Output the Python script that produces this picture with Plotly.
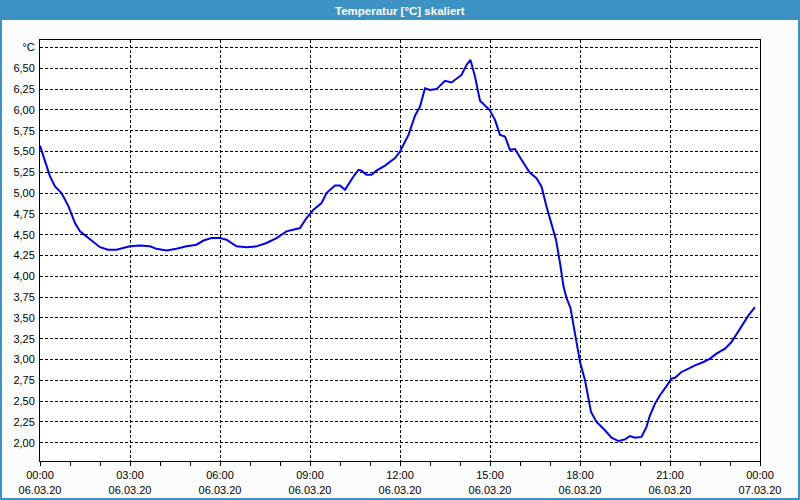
import plotly.graph_objects as go

times = ["00:00","00:20","00:30","00:43","00:57","01:10","01:20","01:40","02:00","02:16","02:33",
         "03:00","03:20","03:40","03:53","04:13","04:33","04:53","05:13","05:27","05:43",
         "06:00","06:13","06:33","06:53","07:13","07:33","07:53","08:13","08:40","08:53",
         "09:07","09:23","09:33","09:50","10:00","10:10","10:27","10:37","10:43","10:53",
         "11:03","11:13","11:30","11:50","12:00","12:17","12:30","12:40","12:50","13:00",
         "13:13","13:30","13:43","14:03","14:13","14:21","14:30","14:40","14:59","15:10",
         "15:20","15:30","15:40","15:50","16:03","16:19","16:33","16:43","16:53","17:03",
         "17:12","17:20","17:27","17:33","17:41","17:50","18:00","18:10","18:17","18:22",
         "18:33","18:50","19:03","19:17","19:30","19:40","19:50","20:03","20:13","20:20",
         "20:30","20:40","20:53","21:03","21:10","21:23","21:37","21:50","22:07","22:20",
         "22:33","22:50","23:03","23:20","23:37","23:50"]
temps = [5.57,5.20,5.08,5.00,4.84,4.64,4.54,4.44,4.35,4.32,4.32,
         4.36,4.37,4.36,4.33,4.31,4.33,4.36,4.38,4.43,4.46,
         4.46,4.44,4.36,4.35,4.36,4.40,4.46,4.54,4.58,4.70,
         4.80,4.88,5.00,5.09,5.09,5.04,5.20,5.28,5.27,5.22,
         5.22,5.27,5.33,5.42,5.50,5.70,5.93,6.04,6.26,6.24,
         6.25,6.35,6.33,6.42,6.54,6.60,6.40,6.11,6.00,5.88,
         5.70,5.68,5.52,5.53,5.40,5.25,5.18,5.08,4.84,4.64,
         4.44,4.16,3.88,3.74,3.62,3.31,2.97,2.75,2.51,2.37,
         2.25,2.15,2.06,2.02,2.04,2.08,2.06,2.07,2.19,2.33,
         2.47,2.57,2.68,2.77,2.78,2.85,2.89,2.93,2.97,3.01,
         3.07,3.13,3.21,3.37,3.53,3.63]

x_tick_vals = ["2020-03-06 00:00","2020-03-06 03:00","2020-03-06 06:00","2020-03-06 09:00",
               "2020-03-06 12:00","2020-03-06 15:00","2020-03-06 18:00","2020-03-06 21:00",
               "2020-03-07 00:00"]
x_tick_text = ["00:00<br>06.03.20","03:00<br>06.03.20","06:00<br>06.03.20","09:00<br>06.03.20",
               "12:00<br>06.03.20","15:00<br>06.03.20","18:00<br>06.03.20","21:00<br>06.03.20",
               "00:00<br>07.03.20"]
y_tick_vals = [2.00,2.25,2.50,2.75,3.00,3.25,3.50,3.75,4.00,4.25,4.50,4.75,
               5.00,5.25,5.50,5.75,6.00,6.25,6.50,6.75]
y_tick_text = ["2,00","2,25","2,50","2,75","3,00","3,25","3,50","3,75","4,00","4,25","4,50","4,75",
               "5,00","5,25","5,50","5,75","6,00","6,25","6,50","°C"]

x_dates = ["2020-03-06 " + t for t in times]

BLUE_BAR = "#3d92c4"
FONT = "Liberation Sans"

fig = go.Figure()
fig.add_trace(go.Scatter(x=x_dates, y=temps, mode="lines",
                         line=dict(color="#0000f0", width=2), showlegend=False))

W, H = 800, 500
L, R, T, B = 40, 40, 40, 39
pw, ph = W - L - R, H - T - B

def px(X):
    return (X - L) / pw

def py(Y):
    return (H - B - Y) / ph

fig.update_layout(
    width=W, height=H,
    margin=dict(l=L, r=R, t=T, b=B, autoexpand=False),
    paper_bgcolor="#fbfdfd",
    plot_bgcolor="#ffffff",
    font=dict(family=FONT, size=11, color="#000000"),
    shapes=[
        dict(type="rect", xref="paper", yref="paper",
             x0=px(0), x1=px(800), y0=py(20), y1=py(0),
             fillcolor=BLUE_BAR, line=dict(width=0), layer="above"),
        dict(type="rect", xref="paper", yref="paper",
             x0=px(1), x1=px(799), y0=py(499), y1=py(1),
             fillcolor="rgba(0,0,0,0)", line=dict(color=BLUE_BAR, width=2), layer="above"),
    ],
    annotations=[
        dict(text="<b>Temperatur [°C] skaliert</b>", xref="paper", yref="paper",
             x=px(400), y=py(10.5), xanchor="center", yanchor="middle", showarrow=False,
             font=dict(family=FONT, size=11.5, color="#ffffff")),
    ],
)

fig.update_xaxes(
    type="date", automargin=False,
    range=["2020-03-06 00:00", "2020-03-07 00:00"],
    tickmode="array", tickvals=x_tick_vals, ticktext=x_tick_text,
    ticks="outside", ticklen=4, tickcolor="#000000",
    showgrid=True, gridcolor="#000000", gridwidth=1, griddash="3px,2px",
    showline=True, linecolor="#000000", linewidth=1, mirror=True,
    zeroline=False,
    minor=dict(tick0="2020-03-06 00:00", dtick=3600000, ticks="outside", ticklen=4,
               tickcolor="#000000", showgrid=False),
    tickfont=dict(family=FONT, size=11, color="#000000"),
)
fig.update_yaxes(
    range=[1.78, 6.84], automargin=False,
    tickmode="array", tickvals=y_tick_vals, ticktext=y_tick_text,
    ticks="", ticklabelstandoff=2,
    showgrid=True, gridcolor="#000000", gridwidth=1, griddash="3px,2px",
    showline=True, linecolor="#000000", linewidth=1, mirror=True,
    zeroline=False,
    tickfont=dict(family=FONT, size=11, color="#000000"),
)

fig.write_html("out.html")
